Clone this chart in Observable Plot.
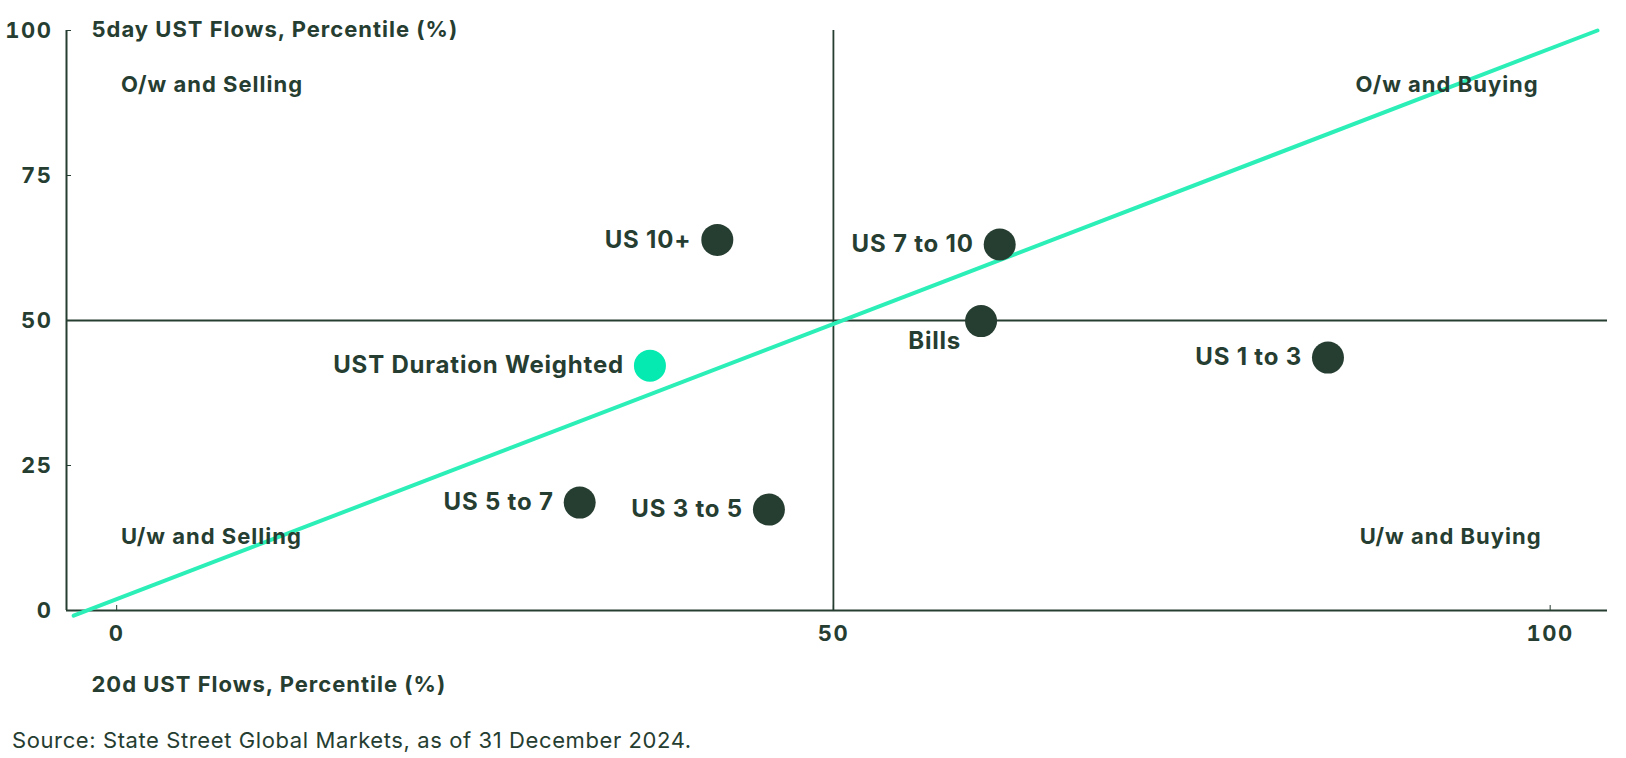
<!DOCTYPE html>
<html>
<head>
<meta charset="utf-8">
<script src="https://cdn.jsdelivr.net/npm/d3@7"></script>
<script src="https://cdn.jsdelivr.net/npm/@observablehq/plot@0.6"></script>
<style>
  body { margin: 0; background: #fff; font-family: Inter, "Noto Sans", sans-serif; }
  #chart { position: relative; width: 1626px; height: 758px; }
  #caption { position: absolute; left: 12px; top: 727px; font-size: 22px; color: #263d31; font-weight: 400; letter-spacing: 0.6px; }
  .big text { letter-spacing: 0.8px; }
</style>
</head>
<body>
<div id="chart"><div id="caption">Source: State Street Global Markets, as of 31 December 2024.</div></div>
<script>
// Data
const names = ["US 10+", "US 7 to 10", "Bills", "US 1 to 3", "UST Duration Weighted", "US 5 to 7", "US 3 to 5"];
const flows20d = [41.9, 61.6, 60.3, 84.5, 37.2, 32.3, 45.5];
const flows5d = [63.9, 63.1, 49.9, 43.6, 42.2, 18.6, 17.4];
const highlight = [false, false, false, false, true, false, false];

const xTicks = [0, 50, 100];
const yTicks = [0, 25, 50, 75, 100];
const xDomain = [-3.5, 104];
const yDomain = [0, 100];

// fitted line endpoints
const lineX = [-3.0, 103.3];
const lineY = [-0.9, 100];

const quadLabels = ["O/w and Selling", "O/w and Buying", "U/w and Selling", "U/w and Buying"];
const quadX = [0.3, 99.2, 0.3, 99.4];
const quadY = [90.6, 90.6, 12.7, 12.7];

const xTitle = "20d UST Flows, Percentile (%)";
const yTitle = "5day UST Flows, Percentile (%)";

const DARK = "#263d31";
const TEAL = "#2cefb8";
const TEAL_DOT = "#05eab0";

const points = names.map((n, i) => ({name: n, x: flows20d[i], y: flows5d[i], hl: highlight[i]}));
const fitLine = lineX.map((x, i) => ({x, y: lineY[i]}));
const quads = quadLabels.map((t, i) => ({t, x: quadX[i], y: quadY[i]}));
const FONT = "Inter, 'Noto Sans', sans-serif";
const ls = (px) => ({style: `letter-spacing:${px}px`});

const txt = {fill: DARK, fontSize: 22, fontWeight: 700};
const ptxt = {fill: DARK, fontSize: 24, fontWeight: 700};

const plot = Plot.plot({
  width: 1626,
  height: 700,
  marginTop: 30,
  marginBottom: 90,
  marginLeft: 66,
  marginRight: 19,
  style: {fontFamily: FONT, color: DARK, background: "transparent"},
  x: {domain: xDomain, ticks: xTicks, label: null},
  y: {domain: yDomain, ticks: yTicks, label: null},
  marks: [
    // axis lines
    Plot.ruleX([xDomain[0]], {y1: yDomain[0], y2: yDomain[1], stroke: DARK, strokeWidth: 2}),
    Plot.ruleY([yDomain[0]], {x1: xDomain[0], x2: xDomain[1], stroke: DARK, strokeWidth: 2}),
    // quadrant dividers
    Plot.ruleX([50], {y1: yDomain[0], y2: yDomain[1], stroke: DARK, strokeWidth: 1.8}),
    Plot.ruleY([50], {x1: xDomain[0], x2: xDomain[1], stroke: DARK, strokeWidth: 1.8}),
    Plot.axisX({ticks: xTicks, tickSize: -5, tickPadding: 20, stroke: DARK, fill: DARK, fontSize: 22, fontWeight: 700, label: null, className: "tickx"}),
    Plot.axisY({ticks: yTicks, tickSize: -5, tickPadding: 19, stroke: DARK, fill: DARK, fontSize: 22, fontWeight: 700, label: null, className: "ticky"}),
    // fitted line
    Plot.line(fitLine, {x: "x", y: "y", stroke: TEAL, strokeWidth: 4}),
    // dots
    Plot.dot(points, {x: "x", y: "y", r: 16, fill: d => d.hl ? TEAL_DOT : DARK, stroke: null}),
    // labels
    Plot.text(points.filter(d => d.name !== "Bills"), {x: "x", y: "y", text: "name", textAnchor: "end", dx: -26, ...ptxt, className: "ptlab"}),
    Plot.text(points.filter(d => d.name === "Bills"), {x: "x", y: "y", text: "name", textAnchor: "end", dx: -20, dy: 20, ...ptxt, className: "ptlab"}),
    // quadrant labels
    Plot.text(quads.filter((d, i) => i % 2 === 0), {x: "x", y: "y", text: "t", textAnchor: "start", ...txt, className: "wlab"}),
    Plot.text(quads.filter((d, i) => i % 2 === 1), {x: "x", y: "y", text: "t", textAnchor: "end", ...txt, className: "wlab"}),
    // axis titles
    Plot.text([yTitle], {frameAnchor: "top-left", dx: 25, dy: -1, lineAnchor: "middle", text: d => d, textAnchor: "start", ...txt, className: "wlab"}),
    Plot.text([xTitle], {frameAnchor: "bottom-left", dx: 25, dy: 74, lineAnchor: "middle", text: d => d, textAnchor: "start", ...txt, className: "wlab"})
  ]
});
const st = document.createElementNS("http://www.w3.org/2000/svg", "style");
st.textContent = `.wlab text{letter-spacing:1px} .ptlab text{letter-spacing:0.8px} .tickx text,.ticky text{letter-spacing:1.5px}`;
plot.prepend(st);
document.getElementById("chart").prepend(plot);
</script>
</body>
</html>
